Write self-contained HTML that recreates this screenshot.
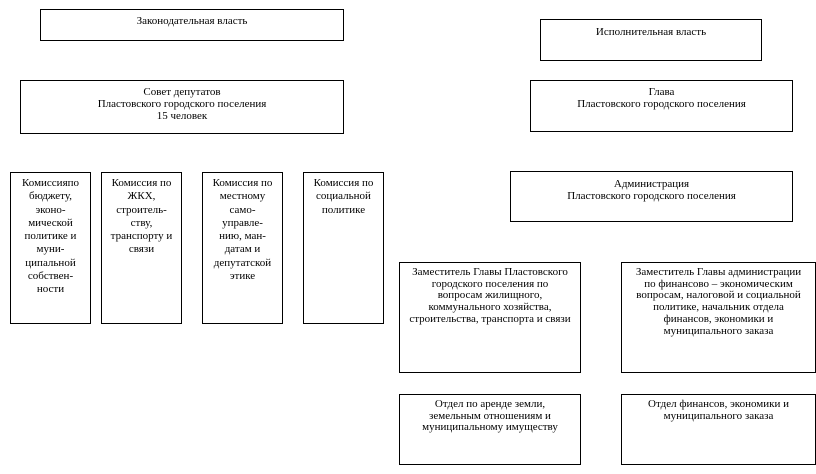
<!DOCTYPE html>
<html><head><meta charset="utf-8"><style>
body{margin:0;width:816px;height:474px;background:#fff;position:relative;overflow:hidden;font-family:"Liberation Serif","DejaVu Serif",serif;font-size:11px;color:#000}
.b{position:absolute;border:1px solid #000;box-sizing:border-box;text-align:center;line-height:12px;padding-top:4px;white-space:nowrap}
.c{line-height:13.3px;padding-top:4px}
</style></head><body>
<div class="b" style="left:40px;top:9px;width:304px;height:32px;padding-top:5px">Законодательная власть</div>
<div class="b" style="left:540px;top:19px;width:222px;height:42px;padding-top:6px">Исполнительная власть</div>
<div class="b" style="left:20px;top:80px;width:324px;height:54px;padding-top:5px">Совет депутатов<br>Пластовского городского поселения<br>15 человек</div>
<div class="b" style="left:530px;top:80px;width:263px;height:52px;padding-top:5px">Глава<br>Пластовского городского поселения</div>
<div class="b c" style="left:10px;top:172px;width:81px;height:152px">Комиссияпо<br>бюджету,<br>эконо-<br>мической<br>политике и<br>муни-<br>ципальной<br>собствен-<br>ности</div>
<div class="b c" style="left:101px;top:172px;width:81px;height:152px">Комиссия по<br>ЖКХ,<br>строитель-<br>ству,<br>транспорту и<br>связи</div>
<div class="b c" style="left:202px;top:172px;width:81px;height:152px">Комиссия по<br>местному<br>само-<br>управле-<br>нию, ман-<br>датам и<br>депутатской<br>этике</div>
<div class="b c" style="left:303px;top:172px;width:81px;height:152px">Комиссия по<br>социальной<br>политике</div>
<div class="b" style="left:510px;top:171px;width:283px;height:51px;padding-top:6px">Администрация<br>Пластовского городского поселения</div>
<div class="b" style="left:399px;top:262px;width:182px;height:111px;padding-top:4px;line-height:11.7px">Заместитель Главы Пластовского<br>городского поселения по<br>вопросам жилищного,<br>коммунального хозяйства,<br>строительства, транспорта и связи</div>
<div class="b" style="left:621px;top:262px;width:195px;height:111px;padding-top:4px;line-height:11.7px">Заместитель Главы администрации<br>по финансово – экономическим<br>вопросам, налоговой и социальной<br>политике, начальник отдела<br>финансов, экономики и<br>муниципального заказа</div>
<div class="b" style="left:399px;top:394px;width:182px;height:71px;padding-top:4px;line-height:11.7px">Отдел по аренде земли,<br>земельным отношениям и<br>муниципальному имуществу</div>
<div class="b" style="left:621px;top:394px;width:195px;height:71px;padding-top:4px;line-height:11.7px">Отдел финансов, экономики и<br>муниципального заказа</div>
</body></html>
